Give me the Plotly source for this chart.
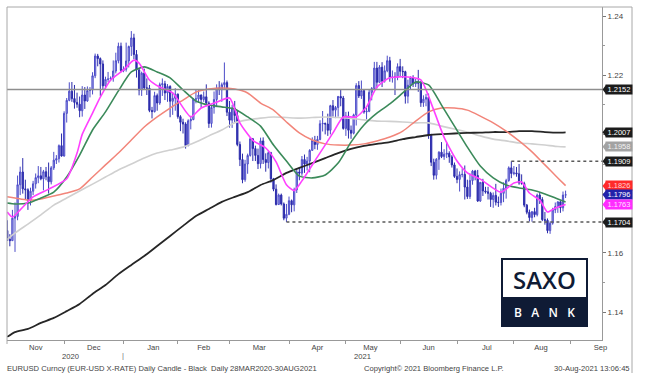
import pandas as pd
import plotly.graph_objects as go

# ---------------- daily EURUSD candles (one row per week, Mon..Fri) ----------------
opens = [
    1.1745, 1.1675,
    1.1646, 1.1641, 1.1717, 1.1723, 1.1830,
    1.1873, 1.1816, 1.1813, 1.1777, 1.1808,
    1.1833, 1.1854, 1.1860, 1.1850, 1.1874,
    1.1857, 1.1840, 1.1887, 1.1913, 1.1918,
    1.1962, 1.1927, 1.2071, 1.2115, 1.2146,
    1.2121, 1.2108, 1.2102, 1.2080, 1.2133,
    1.2113, 1.2148, 1.2150, 1.2198, 1.2265,
    1.2256, 1.2238, 1.2164, 1.2186, 1.2187,
    1.2190, 1.2214, 1.2249, 1.2298, 1.2216,
    1.2220, 1.2248, 1.2297, 1.2326, 1.2270,
    1.2218, 1.2150, 1.2207, 1.2157, 1.2156,
    1.2081, 1.2077, 1.2131, 1.2106, 1.2168,
    1.2171, 1.2140, 1.2162, 1.2112, 1.2122,
    1.2136, 1.2060, 1.2041, 1.2035, 1.1962,
    1.2046, 1.2050, 1.2119, 1.2120, 1.2133,
    1.2118, 1.2127, 1.2106, 1.2037, 1.2091,
    1.2118, 1.2157, 1.2151, 1.2168, 1.2175,
    1.2075, 1.2048, 1.2089, 1.2064, 1.1966,
    1.1915, 1.1847, 1.1900, 1.1929, 1.1985,
    1.1952, 1.1929, 1.1901, 1.1978, 1.1915,
    1.1905, 1.1938, 1.1850, 1.1815, 1.1763,
    1.1795, 1.1765, 1.1717, 1.1730, 1.1776,
    1.1762, 1.1813, 1.1873, 1.1869, 1.1915,
    1.1900, 1.1910, 1.1946, 1.1980, 1.1966,
    1.1983, 1.2036, 1.2037, 1.2035, 1.2014,
    1.2097, 1.2082, 1.2091, 1.2128, 1.2123,
    1.2020, 1.2062, 1.2014, 1.2004, 1.2066,
    1.2165, 1.2130, 1.2148, 1.2076, 1.2078,
    1.2142, 1.2155, 1.2224, 1.2176, 1.2227,
    1.2180, 1.2215, 1.2249, 1.2192, 1.2194,
    1.2193, 1.2229, 1.2213, 1.2212, 1.2129,
    1.2166, 1.2192, 1.2171, 1.2177, 1.2173,
    1.2107, 1.2119, 1.2125, 1.1997, 1.1906,
    1.1862, 1.1916, 1.1940, 1.1925, 1.1933,
    1.1936, 1.1924, 1.1897, 1.1858, 1.1848,
    1.1864, 1.1865, 1.1822, 1.1790, 1.1844,
    1.1876, 1.1861, 1.1775, 1.1838, 1.1809,
    1.1806, 1.1801, 1.1780, 1.1794, 1.1771,
    1.1770, 1.1801, 1.1818, 1.1844, 1.1887,
    1.1868, 1.1870, 1.1867, 1.1836, 1.1834,
    1.1761, 1.1737, 1.1719, 1.1739, 1.1729,
    1.1795, 1.1780, 1.1712, 1.1710, 1.1675,
    1.1700, 1.1745, 1.1756, 1.1772, 1.1752,
    1.1795,
]
highs = [
    1.1760, 1.1710,
    1.1663, 1.1745, 1.1770, 1.1861, 1.1891,
    1.1920, 1.1847, 1.1818, 1.1820, 1.1843,
    1.1868, 1.1893, 1.1890, 1.1880, 1.1890,
    1.1905, 1.1893, 1.1941, 1.1930, 1.1966,
    1.2003, 1.2078, 1.2123, 1.2176, 1.2177,
    1.2167, 1.2141, 1.2128, 1.2163, 1.2160,
    1.2162, 1.2160, 1.2210, 1.2273, 1.2272,
    1.2260, 1.2250, 1.2195, 1.2211, 1.2196,
    1.2250, 1.2276, 1.2310, 1.2310, 1.2230,
    1.2310, 1.2300, 1.2349, 1.2340, 1.2285,
    1.2220, 1.2212, 1.2222, 1.2189, 1.2167,
    1.2093, 1.2144, 1.2138, 1.2175, 1.2189,
    1.2181, 1.2170, 1.2166, 1.2142, 1.2156,
    1.2138, 1.2065, 1.2053, 1.2041, 1.2051,
    1.2063, 1.2123, 1.2150, 1.2150, 1.2135,
    1.2145, 1.2169, 1.2112, 1.2096, 1.2145,
    1.2169, 1.2180, 1.2175, 1.2243, 1.2182,
    1.2113, 1.2100, 1.2113, 1.2081, 1.1976,
    1.1935, 1.1914, 1.1935, 1.1990, 1.1988,
    1.1962, 1.1952, 1.1989, 1.1990, 1.1936,
    1.1945, 1.1941, 1.1853, 1.1831, 1.1800,
    1.1800, 1.1770, 1.1765, 1.1790, 1.1780,
    1.1820, 1.1880, 1.1887, 1.1927, 1.1932,
    1.1924, 1.1950, 1.1990, 1.1995, 1.1995,
    1.2048, 1.2079, 1.2040, 1.2070, 1.2100,
    1.2116, 1.2096, 1.2130, 1.2150, 1.2130,
    1.2076, 1.2077, 1.2030, 1.2070, 1.2173,
    1.2180, 1.2182, 1.2149, 1.2090, 1.2150,
    1.2160, 1.2245, 1.2245, 1.2234, 1.2244,
    1.2233, 1.2266, 1.2262, 1.2216, 1.2210,
    1.2240, 1.2255, 1.2230, 1.2215, 1.2185,
    1.2196, 1.2200, 1.2188, 1.2218, 1.2180,
    1.2132, 1.2137, 1.2138, 1.2002, 1.1918,
    1.1920, 1.1943, 1.1974, 1.1950, 1.1975,
    1.1943, 1.1930, 1.1905, 1.1885, 1.1875,
    1.1885, 1.1895, 1.1847, 1.1868, 1.1880,
    1.1880, 1.1880, 1.1839, 1.1850, 1.1823,
    1.1823, 1.1806, 1.1804, 1.1833, 1.1790,
    1.1817, 1.1838, 1.1850, 1.1892, 1.1909,
    1.1893, 1.1890, 1.1900, 1.1865, 1.1840,
    1.1765, 1.1746, 1.1740, 1.1752, 1.1800,
    1.1805, 1.1788, 1.1738, 1.1716, 1.1706,
    1.1752, 1.1770, 1.1774, 1.1777, 1.1807,
    1.1810,
]
lows = [
    1.1650, 1.1640,
    1.1622, 1.1640, 1.1603, 1.1710, 1.1795,
    1.1800, 1.1780, 1.1745, 1.1760, 1.1795,
    1.1817, 1.1835, 1.1845, 1.1811, 1.1845,
    1.1800, 1.1831, 1.1880, 1.1900, 1.1905,
    1.1925, 1.1925, 1.2040, 1.2112, 1.2110,
    1.2087, 1.2090, 1.2058, 1.2060, 1.2086,
    1.2110, 1.2125, 1.2135, 1.2190, 1.2230,
    1.2130, 1.2152, 1.2150, 1.2176, 1.2180,
    1.2178, 1.2206, 1.2240, 1.2210, 1.2210,
    1.2212, 1.2226, 1.2265, 1.2254, 1.2192,
    1.2132, 1.2130, 1.2150, 1.2133, 1.2075,
    1.2054, 1.2074, 1.2080, 1.2100, 1.2130,
    1.2116, 1.2110, 1.2058, 1.2066, 1.2080,
    1.2053, 1.2011, 1.2003, 1.1952, 1.1960,
    1.2017, 1.2048, 1.2105, 1.2107, 1.2090,
    1.2110, 1.2095, 1.2022, 1.2023, 1.2070,
    1.2092, 1.2133, 1.2110, 1.2150, 1.2062,
    1.2023, 1.2022, 1.2042, 1.1960, 1.1893,
    1.1835, 1.1840, 1.1867, 1.1925, 1.1910,
    1.1910, 1.1883, 1.1885, 1.1900, 1.1874,
    1.1885, 1.1837, 1.1808, 1.1760, 1.1762,
    1.1760, 1.1710, 1.1704, 1.1727, 1.1737,
    1.1740, 1.1802, 1.1845, 1.1860, 1.1870,
    1.1878, 1.1872, 1.1945, 1.1950, 1.1948,
    1.1980, 1.2010, 1.2000, 1.1995, 1.2000,
    1.2060, 1.2055, 1.2060, 1.2095, 1.2016,
    1.1995, 1.1986, 1.1985, 1.2000, 1.2030,
    1.2123, 1.2120, 1.2070, 1.2051, 1.2075,
    1.2115, 1.2150, 1.2155, 1.2175, 1.2160,
    1.2175, 1.2210, 1.2178, 1.2175, 1.2133,
    1.2183, 1.2197, 1.2190, 1.2104, 1.2105,
    1.2150, 1.2160, 1.2160, 1.2144, 1.2093,
    1.2093, 1.2095, 1.1985, 1.1893, 1.1847,
    1.1848, 1.1880, 1.1920, 1.1914, 1.1920,
    1.1904, 1.1888, 1.1853, 1.1835, 1.1807,
    1.1855, 1.1780, 1.1782, 1.1782, 1.1830,
    1.1845, 1.1772, 1.1772, 1.1792, 1.1800,
    1.1780, 1.1755, 1.1752, 1.1760, 1.1755,
    1.1760, 1.1771, 1.1783, 1.1840, 1.1852,
    1.1862, 1.1857, 1.1830, 1.1830, 1.1754,
    1.1730, 1.1706, 1.1705, 1.1720, 1.1723,
    1.1765, 1.1707, 1.1695, 1.1666, 1.1664,
    1.1695, 1.1734, 1.1735, 1.1735, 1.1740,
    1.1785,
]
closes = [
    1.1675, 1.1646,
    1.1641, 1.1717, 1.1723, 1.1830, 1.1873,
    1.1816, 1.1813, 1.1777, 1.1808, 1.1833,
    1.1854, 1.1860, 1.1850, 1.1874, 1.1857,
    1.1840, 1.1887, 1.1913, 1.1918, 1.1962,
    1.1927, 1.2071, 1.2115, 1.2146, 1.2121,
    1.2108, 1.2102, 1.2080, 1.2133, 1.2113,
    1.2148, 1.2150, 1.2198, 1.2265, 1.2256,
    1.2238, 1.2164, 1.2186, 1.2187, 1.2190,
    1.2214, 1.2249, 1.2298, 1.2216, 1.2220,
    1.2248, 1.2297, 1.2326, 1.2270, 1.2218,
    1.2150, 1.2207, 1.2157, 1.2156, 1.2081,
    1.2077, 1.2131, 1.2106, 1.2168, 1.2171,
    1.2140, 1.2162, 1.2112, 1.2122, 1.2136,
    1.2060, 1.2041, 1.2035, 1.1962, 1.2046,
    1.2050, 1.2119, 1.2120, 1.2133, 1.2118,
    1.2127, 1.2106, 1.2037, 1.2091, 1.2118,
    1.2157, 1.2151, 1.2168, 1.2175, 1.2075,
    1.2048, 1.2089, 1.2064, 1.1966, 1.1915,
    1.1847, 1.1900, 1.1929, 1.1985, 1.1952,
    1.1929, 1.1901, 1.1978, 1.1915, 1.1905,
    1.1938, 1.1850, 1.1815, 1.1763, 1.1795,
    1.1765, 1.1717, 1.1730, 1.1776, 1.1762,
    1.1813, 1.1873, 1.1869, 1.1915, 1.1900,
    1.1910, 1.1946, 1.1980, 1.1966, 1.1983,
    1.2036, 1.2037, 1.2035, 1.2014, 1.2097,
    1.2082, 1.2091, 1.2128, 1.2123, 1.2020,
    1.2062, 1.2014, 1.2004, 1.2066, 1.2165,
    1.2130, 1.2148, 1.2076, 1.2078, 1.2142,
    1.2155, 1.2224, 1.2176, 1.2227, 1.2180,
    1.2215, 1.2249, 1.2192, 1.2194, 1.2193,
    1.2229, 1.2213, 1.2212, 1.2129, 1.2166,
    1.2192, 1.2171, 1.2177, 1.2173, 1.2107,
    1.2119, 1.2125, 1.1997, 1.1906, 1.1862,
    1.1916, 1.1940, 1.1925, 1.1933, 1.1936,
    1.1924, 1.1897, 1.1858, 1.1848, 1.1864,
    1.1865, 1.1822, 1.1790, 1.1844, 1.1876,
    1.1861, 1.1775, 1.1838, 1.1809, 1.1806,
    1.1801, 1.1780, 1.1794, 1.1771, 1.1770,
    1.1801, 1.1818, 1.1844, 1.1887, 1.1868,
    1.1870, 1.1867, 1.1836, 1.1834, 1.1761,
    1.1737, 1.1719, 1.1739, 1.1729, 1.1795,
    1.1780, 1.1712, 1.1710, 1.1675, 1.1700,
    1.1745, 1.1756, 1.1772, 1.1752, 1.1795,
    1.1796,
]
first_day = "2020-10-29"

# ---------------- moving averages (weekly samples) ----------------
ma_dates = (["2020-10-30"]
            + [d.strftime("%Y-%m-%d") for d in pd.date_range("2020-11-04", periods=43, freq="7D")]
            + ["2021-08-30"])
ma_black = [1.1316, 1.1332, 1.1343, 1.1363, 1.1380, 1.1403, 1.1427, 1.1461, 1.1491, 1.1528,
            1.1559, 1.1589, 1.1623, 1.1657, 1.1691, 1.1724, 1.1748, 1.1772, 1.1789, 1.1805,
            1.1829, 1.1846, 1.1870, 1.1887, 1.1903, 1.1920, 1.1937, 1.1951, 1.1961, 1.1968,
            1.1974, 1.1984, 1.1991, 1.1998, 1.2001, 1.2003, 1.2005, 1.2006, 1.2008, 1.2008,
            1.2011, 1.2011, 1.2008, 1.2006, 1.2007]
ma_gray = [1.1645, 1.1667, 1.1697, 1.1728, 1.1761, 1.1785, 1.1809, 1.1832, 1.1856, 1.1880,
           1.1900, 1.1920, 1.1937, 1.1947, 1.1957, 1.1974, 1.1995, 1.2015, 1.2039, 1.2049,
           1.2055, 1.2059, 1.2057, 1.2055, 1.2057, 1.2059, 1.2057, 1.2054, 1.2049, 1.2045,
           1.2044, 1.2042, 1.2039, 1.2039, 1.2028, 1.2018, 1.2008, 1.1995, 1.1984, 1.1978,
           1.1971, 1.1968, 1.1964, 1.1959, 1.1958]
ma_red = [1.1789, 1.1785, 1.1778, 1.1782, 1.1792, 1.1802, 1.1816, 1.1856, 1.1897, 1.1937,
          1.1981, 1.2025, 1.2059, 1.2089, 1.2116, 1.2143, 1.2153, 1.2157, 1.2153, 1.2140,
          1.2106, 1.2082, 1.2042, 1.2005, 1.1981, 1.1968, 1.1964, 1.1964, 1.1968, 1.1978,
          1.1991, 1.2011, 1.2045, 1.2076, 1.2089, 1.2089, 1.2082, 1.2062, 1.2039, 1.2011,
          1.1978, 1.1941, 1.1897, 1.1853, 1.1827]
ma_green = [1.1768, 1.1765, 1.1768, 1.1785, 1.1805, 1.1856, 1.1930, 1.2015, 1.2076, 1.2147,
            1.2211, 1.2228, 1.2211, 1.2191, 1.2150, 1.2113, 1.2099, 1.2093, 1.2086, 1.2059,
            1.2028, 1.1964, 1.1910, 1.1859, 1.1853, 1.1863, 1.1903, 1.1974, 1.2032, 1.2072,
            1.2103, 1.2140, 1.2177, 1.2167, 1.2099, 1.2028, 1.1957, 1.1893, 1.1853, 1.1829,
            1.1819, 1.1812, 1.1799, 1.1782, 1.1772]
magenta_dates = ["2020-10-30", "2020-11-03", "2020-11-06", "2020-11-13", "2020-11-23",
                 "2020-12-02", "2020-12-08", "2020-12-10", "2020-12-16", "2020-12-21",
                 "2020-12-25", "2021-01-01", "2021-01-07", "2021-01-11", "2021-01-15",
                 "2021-01-21", "2021-01-28", "2021-02-08", "2021-02-12", "2021-02-22",
                 "2021-03-01", "2021-03-05", "2021-03-12", "2021-03-19", "2021-03-25",
                 "2021-03-31", "2021-04-05", "2021-04-08", "2021-04-16", "2021-04-26",
                 "2021-04-30", "2021-05-07", "2021-05-13", "2021-05-19", "2021-05-26",
                 "2021-06-04", "2021-06-11", "2021-06-18", "2021-06-24", "2021-07-01",
                 "2021-07-07", "2021-07-14", "2021-07-26", "2021-08-02", "2021-08-05",
                 "2021-08-10", "2021-08-16", "2021-08-19", "2021-08-24", "2021-08-30"]
ma_magenta = [1.1738, 1.1721, 1.1745, 1.1789, 1.1815, 1.1850, 1.1937, 1.2000, 1.2072, 1.2126,
              1.2184, 1.2218, 1.2251, 1.2241, 1.2184, 1.2160, 1.2140, 1.2059, 1.2089, 1.2109,
              1.2123, 1.2039, 1.1980, 1.1954, 1.1907, 1.1830, 1.1810, 1.1843, 1.1924, 1.2005,
              1.2059, 1.2059, 1.2093, 1.2160, 1.2191, 1.2194, 1.2184, 1.2082, 1.1990, 1.1910,
              1.1870, 1.1849, 1.1805, 1.1836, 1.1839, 1.1802, 1.1778, 1.1738, 1.1751, 1.1763]

# reference levels and right-hand value tags
level_resist = 1.2152
level_jul_high, jul_high_date = 1.1909, "2021-07-30"
level_mar_low, mar_low_date = 1.1704, "2021-03-31"
tag_values = [1.2152, 1.2007, 1.1958, 1.1909, 1.1826, 1.1796, 1.1763, 1.1704]
tag_colors = ["#1c1c1c", "#1c1c1c", "#a3a3a3", "#1c1c1c", "#ff2a2a", "#2222aa", "#ff2cff", "#1c1c1c"]
tag_text_colors = ["#ffffff", "#ffffff", "#f2f2f2", "#ffffff", "#ffd0d0", "#ffffff", "#ffe0ff", "#ffffff"]
y_ticks = [1.14, 1.16, 1.22, 1.24]
y_minor = [1.15, 1.17, 1.18, 1.19, 1.20, 1.21, 1.23]

# ---------------- figure ----------------
W, H = 645, 380
L, R, T, B = 7, 602, 7, 340


def px(x):
    return (x - L) / (R - L)


def py(y):
    return (B - y) / (B - T)


dates = pd.bdate_range(first_day, periods=len(closes))
x_range = ["2020-10-29 21:40", "2021-09-17 02:00"]
FONT = "Liberation Sans"

fig = go.Figure()
fig.add_trace(go.Candlestick(
    x=dates, open=opens, high=highs, low=lows, close=closes,
    increasing=dict(line=dict(color="#4c4cc8", width=1), fillcolor="#aeaeee"),
    decreasing=dict(line=dict(color="#2b2bab", width=1), fillcolor="#3434b4"),
    whiskerwidth=0, showlegend=False, hoverinfo="skip"))

for vals, xs, color, width in [
    (ma_gray, ma_dates, "#d0d0d0", 1.6),
    (ma_black, ma_dates, "#262626", 1.8),
    (ma_red, ma_dates, "#f2857a", 1.5),
    (ma_green, ma_dates, "#3b8a5a", 1.6),
    (ma_magenta, magenta_dates, "#ff40ff", 1.6),
]:
    fig.add_trace(go.Scatter(x=xs, y=vals, mode="lines",
                             line=dict(color=color, width=width, shape="spline", smoothing=0.6),
                             showlegend=False, hoverinfo="skip"))

shapes = []
shapes.append(dict(type="line", xref="paper", yref="y", x0=0, x1=1, y0=level_resist, y1=level_resist,
                   line=dict(color="#8e8e8e", width=1.5)))
shapes.append(dict(type="line", xref="x", yref="y", x0=jul_high_date, x1=x_range[1], y0=level_jul_high,
                   y1=level_jul_high, line=dict(color="#5a5a5a", width=1.5, dash="dot")))
shapes.append(dict(type="line", xref="x", yref="y", x0=mar_low_date, x1=x_range[1], y0=level_mar_low,
                   y1=level_mar_low, line=dict(color="#5a5a5a", width=1.5, dash="dot")))
# frame
frame_c = "#a8a8a8"
shapes.append(dict(type="line", xref="paper", yref="paper", x0=px(7), x1=px(632), y0=py(7), y1=py(7),
                   line=dict(color=frame_c, width=1)))
shapes.append(dict(type="line", xref="paper", yref="paper", x0=px(632), x1=px(632), y0=py(7), y1=py(373),
                   line=dict(color=frame_c, width=1)))
shapes.append(dict(type="line", xref="paper", yref="paper", x0=px(7), x1=px(7), y0=py(7), y1=py(344),
                   line=dict(color=frame_c, width=1)))

annotations = []
# value tags
dy = 4.5 / 2960
for v, c, tc in zip(tag_values, tag_colors, tag_text_colors):
    shapes.append(dict(type="path", xref="paper", yref="y",
                       path=f"M {px(602.5)},{v} L {px(606)},{v + dy} L {px(606)},{v - dy} Z",
                       fillcolor=c, line=dict(width=0)))
    annotations.append(dict(xref="paper", yref="y", x=px(605), y=v, xanchor="left", yanchor="middle",
                            text=f"{v:.4f}", showarrow=False, bgcolor=c, width=26, height=9,
                            borderpad=0, font=dict(family=FONT, size=7.5, color=tc)))


def label(x, y, text, size=7.6, color="#444", xanchor="center", family=FONT, weight=None):
    f = dict(family=family, size=size, color=color)
    if weight:
        f["weight"] = weight
    annotations.append(dict(xref="paper", yref="paper", x=px(x), y=py(y), text=text, showarrow=False,
                            xanchor=xanchor, yanchor="middle", font=f))


# year labels, footer
label(70, 356, "2020")
label(123, 355, "|", color="#777")
label(362, 356, "2021")
label(5, 368, "EURUSD Curncy (EUR-USD X-RATE) Daily Candle - Black  Daily 28MAR2020-30AUG2021", xanchor="left")
label(362, 368, "Copyright© 2021 Bloomberg Finance L.P.", xanchor="left")
label(632, 368, "30-Aug-2021 13:06:45", xanchor="right")

# SAXO BANK logo
navy = "#0f1b35"
shapes.append(dict(type="rect", xref="paper", yref="paper", x0=px(502), x1=px(587), y0=py(298), y1=py(259),
                   fillcolor="white", line=dict(color=navy, width=2), layer="above"))
shapes.append(dict(type="rect", xref="paper", yref="paper", x0=px(502), x1=px(587), y0=py(326), y1=py(298),
                   fillcolor=navy, line=dict(color=navy, width=2), layer="above"))
label(544.5, 279, "SAXO", size=24, color=navy, family="Open Sans", weight=600)
label(544.5, 312, "B\u00a0\u00a0\u00a0A\u00a0\u00a0\u00a0N\u00a0\u00a0\u00a0K", size=12, color="white",
      family="Open Sans", weight=600)

fig.update_layout(
    width=W, height=H,
    margin=dict(l=L, r=W - R, t=T, b=H - B, autoexpand=False),
    paper_bgcolor="white", plot_bgcolor="white",
    shapes=shapes, annotations=annotations,
    showlegend=False,
    xaxis=dict(
        type="date", range=x_range, rangeslider=dict(visible=False),
        rangebreaks=[dict(bounds=["sat", "mon"])],
        dtick="M1", tick0="2020-11-01", tickformat="%b", ticklabelmode="period",
        ticks="outside", ticklen=3, tickcolor="#999", ticklabelstandoff=-3,
        showline=True, linecolor="#999", linewidth=1, showgrid=False, zeroline=False,
        tickfont=dict(family=FONT, size=7.6, color="#444"),
    ),
    yaxis=dict(
        side="right", range=[1.13054, 1.24304],
        tickvals=y_ticks, ticktext=[f"{v:.2f}" for v in y_ticks],
        ticks="outside", ticklen=3, tickcolor="#777",
        minor=dict(tickvals=y_minor, ticks="outside", ticklen=2, tickcolor="#999"),
        showline=True, linecolor="#999", linewidth=1, showgrid=False, zeroline=False,
        tickfont=dict(family=FONT, size=8, color="#444"),
    ),
)

fig.write_html("out.html", config={"displayModeBar": False, "staticPlot": True},
               post_script="document.body.style.margin='0px';document.body.style.padding='0px';")
